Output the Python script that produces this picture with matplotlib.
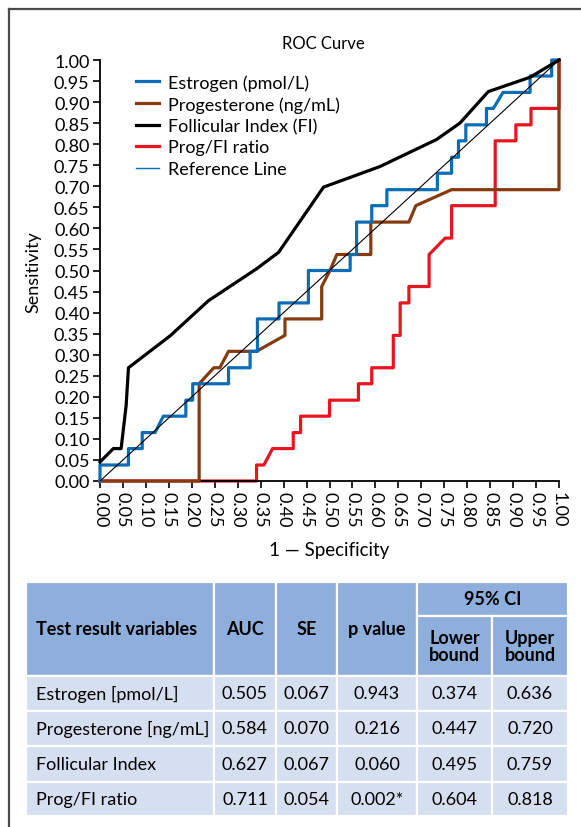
import matplotlib
matplotlib.use("Agg")
import matplotlib.pyplot as plt
from matplotlib.lines import Line2D
from matplotlib.patches import Rectangle

plt.rcParams['font.family'] = ['Lato', 'DejaVu Sans']

# ROC curves (1 - specificity, sensitivity)
est_fpr = [0, 0, 0.062, 0.062, 0.092, 0.092, 0.12, 0.138, 0.187, 0.187,
           0.202, 0.202, 0.28, 0.28, 0.327, 0.327, 0.343, 0.343, 0.39, 0.39,
           0.454, 0.454, 0.545, 0.545, 0.559, 0.559, 0.592, 0.592, 0.625, 0.625,
           0.735, 0.735, 0.766, 0.766, 0.781, 0.781, 0.797, 0.797, 0.842, 0.842,
           0.857, 0.878, 0.937, 0.937, 0.984, 0.984, 1.0]
est_tpr = [0, 0.038, 0.038, 0.077, 0.077, 0.115, 0.115, 0.154, 0.154, 0.192,
           0.192, 0.231, 0.231, 0.269, 0.269, 0.308, 0.308, 0.385, 0.385, 0.423,
           0.423, 0.5, 0.5, 0.538, 0.538, 0.615, 0.615, 0.654, 0.654, 0.692,
           0.692, 0.731, 0.731, 0.769, 0.769, 0.808, 0.808, 0.846, 0.846, 0.885,
           0.885, 0.923, 0.923, 0.962, 0.962, 1.0, 1.0]

prog_fpr = [0, 0.216, 0.216, 0.248, 0.261, 0.28, 0.341, 0.403, 0.403, 0.483,
            0.483, 0.501, 0.516, 0.59, 0.59, 0.673, 0.688, 0.766, 1.0, 1.0]
prog_tpr = [0, 0, 0.231, 0.269, 0.269, 0.308, 0.308, 0.346, 0.385, 0.385,
            0.462, 0.5, 0.538, 0.538, 0.615, 0.615, 0.654, 0.692, 0.692, 1.0]

fi_fpr = [0, 0.029, 0.046, 0.057, 0.062, 0.153, 0.236, 0.341, 0.389, 0.487,
          0.61, 0.733, 0.784, 0.846, 0.937, 1.0]
fi_tpr = [0.045, 0.077, 0.077, 0.18, 0.269, 0.345, 0.428, 0.504, 0.543, 0.698,
          0.747, 0.811, 0.85, 0.925, 0.959, 1.0]

ratio_fpr = [0, 0.341, 0.341, 0.357, 0.376, 0.421, 0.421, 0.437, 0.437, 0.5,
             0.5, 0.563, 0.563, 0.592, 0.592, 0.639, 0.639, 0.654, 0.654, 0.673,
             0.673, 0.717, 0.717, 0.752, 0.766, 0.766, 0.861, 0.861, 0.906, 0.906,
             0.939, 0.939, 1.0, 1.0]
ratio_tpr = [0, 0, 0.038, 0.038, 0.077, 0.077, 0.115, 0.115, 0.154, 0.154,
             0.192, 0.192, 0.231, 0.231, 0.269, 0.269, 0.346, 0.346, 0.423, 0.423,
             0.462, 0.462, 0.538, 0.577, 0.577, 0.654, 0.654, 0.808, 0.808, 0.846,
             0.846, 0.885, 0.885, 1.0]

ref_line = [0, 1]

# table
variables = ["Estrogen [pmol/L]", "Progesterone [ng/mL]", "Follicular Index", "Prog/FI ratio"]
auc = ["0.505", "0.584", "0.627", "0.711"]
se = ["0.067", "0.070", "0.067", "0.054"]
p_value = ["0.943", "0.216", "0.060", "0.002*"]
lower = ["0.374", "0.447", "0.495", "0.604"]
upper = ["0.636", "0.720", "0.759", "0.818"]

W, H = 581, 828
fig = plt.figure(figsize=(W / 100, H / 100), dpi=100)

# outer frame (left + top edges only visible)
fig.add_artist(Line2D([9 / W, 9 / W], [0, 1 - 10 / H], color='#4a4a4a', lw=1.6))
fig.add_artist(Line2D([9 / W, 1], [1 - 10 / H, 1 - 10 / H], color='#4a4a4a', lw=1.6))

ax = fig.add_axes([100 / W, 1 - 482 / H, 459 / W, 421 / H])
fs = 13

ax.plot(ratio_fpr, ratio_tpr, color='#e8141f', lw=2.3, clip_on=False, zorder=2)
ax.plot(prog_fpr, prog_tpr, color='#863b0f', lw=2.3, clip_on=False, zorder=3)
ax.plot(est_fpr, est_tpr, color='#0b6db5', lw=2.3, clip_on=False, zorder=4)
ax.plot(fi_fpr, fi_tpr, color='black', lw=2.3, clip_on=False, zorder=5)
ax.plot(ref_line, ref_line, color='black', lw=0.8, zorder=6)

ax.set_xlim(0, 1)
ax.set_ylim(0, 1)
ticks = [i * 0.05 for i in range(21)]
ax.set_xticks(ticks)
ax.set_yticks(ticks)
ax.set_xticklabels(["%.2f" % t for t in ticks], rotation=-90, fontsize=fs)
ax.set_yticklabels(["%.2f" % t for t in ticks], fontsize=fs)
ax.tick_params(length=5, width=1.2, pad=2.5)
for s in ['top', 'right']:
    ax.spines[s].set_visible(False)
for s in ['left', 'bottom']:
    ax.spines[s].set_linewidth(1.3)

handles = [Line2D([], [], color='#0b6db5', lw=2.3),
           Line2D([], [], color='#863b0f', lw=2.3),
           Line2D([], [], color='black', lw=2.3),
           Line2D([], [], color='#e8141f', lw=2.3),
           Line2D([], [], color='#0b6db5', lw=1.0)]
labels = ["Estrogen (pmol/L)", "Progesterone (ng/mL)", "Follicular Index (FI)",
          "Prog/FI ratio", "Reference Line"]
ax.legend(handles, labels, loc='upper left', bbox_to_anchor=(136 / W, 1 - 75 / H),
          bbox_transform=fig.transFigure, frameon=False, fontsize=fs,
          handlelength=1.25, handletextpad=0.5, labelspacing=0.3, borderpad=0,
          borderaxespad=0)

fig.text(323 / W, 1 - 44 / H, "ROC Curve", ha='center', va='center', fontsize=12)
fig.text(329 / W, 1 - 551 / H, "1 \u2014 Specificity", ha='center', va='center', fontsize=13.5)
fig.text(33 / W, 1 - 272 / H, "Sensitivity", ha='center', va='center', rotation=90, fontsize=13)

# table drawn in pixel coordinates
tab = fig.add_axes([0, 0, 1, 1])
tab.set_xlim(0, W)
tab.set_ylim(H, 0)
tab.axis('off')
tab.patch.set_alpha(0)

cols = [26, 214, 276, 337, 417, 492, 568]
rows = [583, 617, 677, 712, 747, 783, 817]
head_c = '#8eaedc'
body_c = '#d5dff0'
tfs = 13


def cell(x0, x1, y0, y1, color):
    tab.add_patch(Rectangle((x0, y0), x1 - x0, y1 - y0, facecolor=color,
                            edgecolor='white', lw=1.6))


for i in range(4):
    cell(cols[i], cols[i + 1], rows[0], rows[2], head_c)
cell(cols[4], cols[6], rows[0], rows[1], head_c)
cell(cols[4], cols[5], rows[1], rows[2], head_c)
cell(cols[5], cols[6], rows[1], rows[2], head_c)

hy = (rows[0] + rows[2]) / 2
tab.text(36, hy, "Test result variables", ha='left', va='center', fontsize=tfs, weight='bold')
for i, t in enumerate(["AUC", "SE", "p value"]):
    tab.text((cols[i + 1] + cols[i + 2]) / 2, hy, t, ha='center', va='center',
             fontsize=tfs, weight='bold')
tab.text((cols[4] + cols[6]) / 2, (rows[0] + rows[1]) / 2, "95% CI", ha='center',
         va='center', fontsize=tfs, weight='bold')
tab.text((cols[4] + cols[5]) / 2, (rows[1] + rows[2]) / 2, "Lower\nbound", ha='center',
         va='center', fontsize=tfs, weight='bold', linespacing=1.05)
tab.text((cols[5] + cols[6]) / 2, (rows[1] + rows[2]) / 2, "Upper\nbound", ha='center',
         va='center', fontsize=tfs, weight='bold', linespacing=1.05)

for r in range(4):
    y0, y1 = rows[r + 2], rows[r + 3]
    for c in range(6):
        cell(cols[c], cols[c + 1], y0, y1, body_c)
    yc = (y0 + y1) / 2
    tab.text(36, yc, variables[r], ha='left', va='center', fontsize=tfs)
    for c, vals in enumerate([auc, se, p_value, lower, upper]):
        tab.text((cols[c + 1] + cols[c + 2]) / 2, yc, vals[r], ha='center',
                 va='center', fontsize=tfs)

fig.savefig("out.png", dpi=100)
